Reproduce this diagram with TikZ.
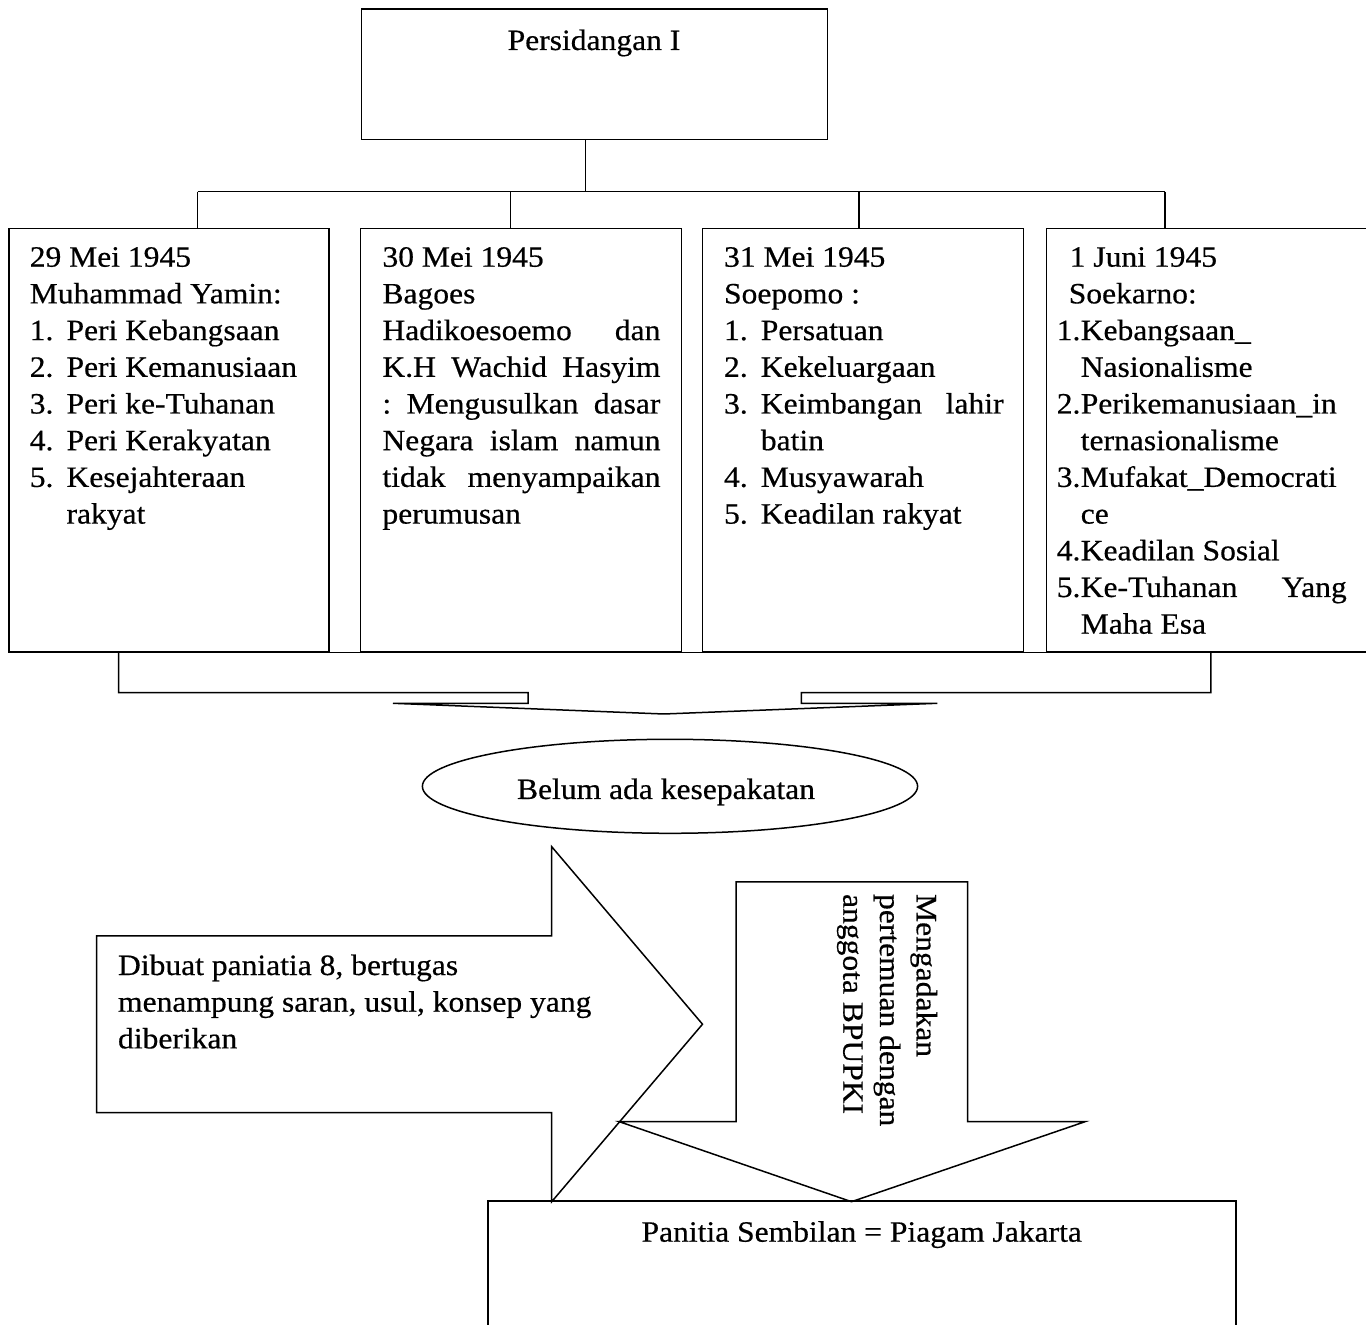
\documentclass[tikz,border=0pt]{standalone}
\usepackage{fontspec}
\setmainfont{Liberation Serif}[FakeStretch=1.07,FakeBold=0.5]
\usetikzlibrary{shapes.geometric}
\newcommand\Lines[1]{\vtop{\baselineskip=18.35pt\lineskiplimit=-100pt\lineskip=0pt\relax #1}}
\newcommand\Ln[1]{\hbox{#1}}
\newcommand\Jl[2]{\hbox to #1{#2}}
\newcommand\Itm[3]{\hbox{\hbox to #1{#2\hss}#3}}
\begin{document}
\begin{tikzpicture}[x=0.5pt,y=-0.5pt,line width=0.75pt,
  every node/.style={inner sep=0pt,font=\fontsize{14.75pt}{18.35pt}\selectfont},
  box/.style={draw,rectangle,fill=white},
  txt/.style={anchor=base west},
  ctxt/.style={anchor=base}]
\useasboundingbox (0,0) rectangle (1366,1325);
\fill[white] (0,0) rectangle (1366,1325);

% top box
\node[box,minimum width=232.8pt,minimum height=65.15pt] (top) at (594.5,74.15) {};
\node[ctxt] (toptxt) at (594,50) {Persidangan I};

% bus
\coordinate (j0) at (585.7,191.7);
\coordinate (d1) at (197.5,191.7);
\coordinate (d2) at (510.5,191.7);
\coordinate (d3) at (859,191.7);
\coordinate (d4) at (1164.8,191.7);

% four boxes
\node[box,minimum width=160.05pt,minimum height=211.7pt] (b1) at (168.95,440) {};
\node[box,minimum width=160.5pt,minimum height=211.7pt] (b2) at (521.2,440) {};
\node[box,minimum width=160.3pt,minimum height=211.7pt] (b3) at (863,440) {};
\node[box,minimum width=160.65pt,minimum height=211.7pt] (b4) at (1207.35,440) {};

\draw (top.south -| j0) -- (j0);
\draw (d1) -- (d4);
\draw (d1) -- (d1 |- b1.north);
\draw (d2) -- (d2 |- b2.north);
\draw (d3) -- (d3 |- b3.north);
\draw (d4) -- (d4 |- b4.north);
\draw (b1.south west) -- (b4.south east);

\node[txt] (t1) at (29,266.7) {\Lines{%
\Ln{29 Mei 1945}
\Ln{Muhammad Yamin:}
\Itm{18.4pt}{1.}{Peri Kebangsaan}
\Itm{18.4pt}{2.}{Peri Kemanusiaan}
\Itm{18.4pt}{3.}{Peri ke-Tuhanan}
\Itm{18.4pt}{4.}{Peri Kerakyatan}
\Itm{18.4pt}{5.}{Kesejahteraan}
\Itm{18.4pt}{}{rakyat}}};

\node[txt] (t2) at (381.7,266.7) {\Lines{%
\Ln{30 Mei 1945}
\Ln{Bagoes}
\Jl{139pt}{Hadikoesoemo\hfill dan}
\Jl{139pt}{K.H\hfill Wachid\hfill Hasyim}
\Jl{139pt}{:\hfill Mengusulkan\hfill dasar}
\Jl{139pt}{Negara\hfill islam\hfill namun}
\Jl{139pt}{tidak\hfill menyampaikan}
\Ln{perumusan}}};

\node[txt] (t3) at (723.3,266.7) {\Lines{%
\Ln{31 Mei 1945}
\Ln{Soepomo :}
\Itm{18.4pt}{1.}{Persatuan}
\Itm{18.4pt}{2.}{Kekeluargaan}
\Itm{18.4pt}{3.}{\hbox to 121.35pt{Keimbangan\hfill lahir}}
\Itm{18.4pt}{}{batin}
\Itm{18.4pt}{4.}{Musyawarah}
\Itm{18.4pt}{5.}{Keadilan rakyat}}};

\node[txt] (t4) at (1056,266.7) {\Lines{%
\Ln{\kern6.5pt 1 Juni 1945}
\Ln{\kern6pt Soekarno:}
\Itm{12pt}{1.}{Kebangsaan\_}
\Itm{12pt}{}{Nasionalisme}
\Itm{12pt}{2.}{Perikemanusiaan\_in}
\Itm{12pt}{}{ternasionalisme}
\Itm{12pt}{3.}{Mufakat\_Democrati}
\Itm{12pt}{}{ce}
\Itm{12pt}{4.}{Keadilan Sosial}
\Itm{12pt}{5.}{\hbox to 133pt{Ke-Tuhanan\hfill Yang}}
\Itm{12pt}{}{Maha Esa}}};

% bracket arrow
\draw (118.5,651.7) -- (118.5,692.7) -- (528,692.7) -- (528,703.3) -- (393,703.3)
  -- (663.8,714) -- (937.3,703.3) -- (801.4,703.3) -- (801.4,692.7)
  -- (1210.8,692.7) -- (1210.8,651.7);

% ellipse
\node[draw,ellipse,minimum width=247.6pt,minimum height=47pt] (el) at (670,786.3) {};
\node[ctxt] (eltxt) at (666,799) {Belum ada kesepakatan};

% left big arrow
\draw[fill=white] (96.7,936) -- (551.7,936) -- (551.7,846.7) -- (702.5,1024.2)
  -- (551.7,1201.7) -- (551.7,1112.7) -- (96.7,1112.7) -- cycle;
\node[txt] (la) at (117.3,975) {\Lines{%
\Ln{Dibuat paniatia 8, bertugas}
\Ln{menampung saran, usul, konsep yang}
\Ln{diberikan}}};

% down arrow
\draw[fill=white] (736,882) -- (967.5,882) -- (967.5,1121.7) -- (1085,1121.7)
  -- (851.5,1201.7) -- (619.3,1121.7) -- (736,1121.7) -- cycle;
\node[txt,rotate=-90] (da) at (916.7,893.3) {\Lines{%
\Ln{Mengadakan}
\Ln{pertemuan dengan}
\Ln{anggota BPUPKI}}};

% bottom box (open at bottom edge)
\node[rectangle,minimum width=373.25pt,minimum height=64.15pt] (pj) at (861.95,1265.85) {};
\draw (pj.south west) -- (pj.north west) -- (pj.north east) -- (pj.south east);
\node[ctxt] (pjtxt) at (861.7,1241.7) {Panitia Sembilan = Piagam Jakarta};
\end{tikzpicture}
\end{document}
